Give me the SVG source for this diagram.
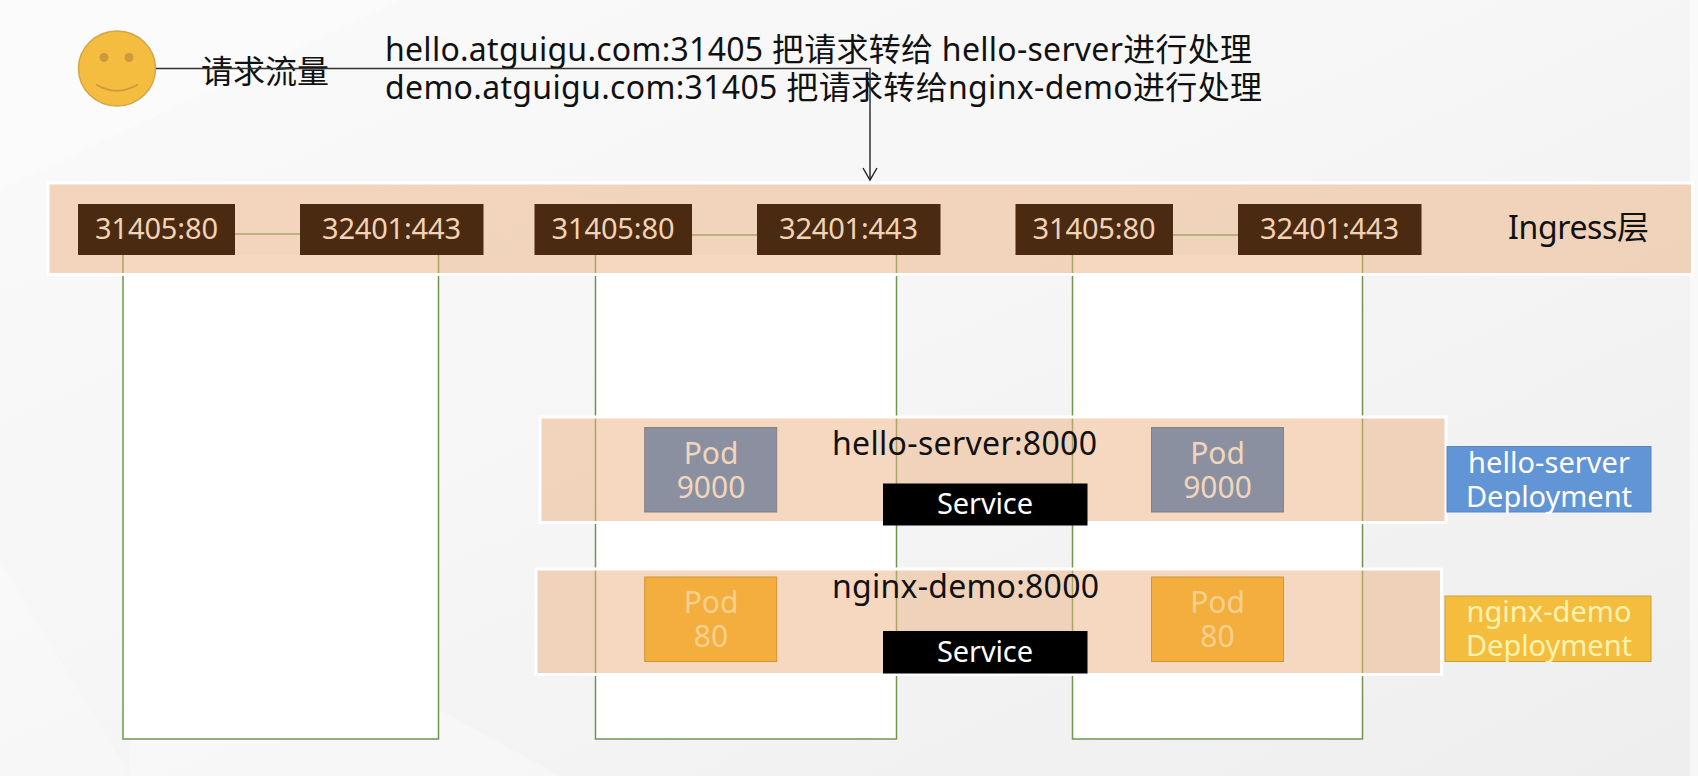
<svg xmlns="http://www.w3.org/2000/svg" width="1698" height="776" viewBox="0 0 1698 776">
<style>
text{font-family:"Noto Sans","Noto Sans CJK SC",sans-serif}
.k{fill:#111;font-size:32px}
.cj{fill:#111;font-size:32px;font-family:"Noto Sans CJK SC",sans-serif}
.band{fill:#ebb17f;fill-opacity:.5;stroke:#fff;stroke-width:3}
.hostfill{fill:#fff}
.host{fill:none;stroke:#6f9650;stroke-width:1.5}
.port rect{fill:#4a2a10}
.port text{fill:#f2d3b5;font-size:29px;text-anchor:middle}
.pod text{font-size:30px;text-anchor:middle}
.svc rect{fill:#000}
.svc text{fill:#fff;font-size:29px;text-anchor:middle}
.dep text{font-size:29px;text-anchor:middle}
.wire{fill:none;stroke:#a9a56e;stroke-width:1.6}
</style>
<defs>
<linearGradient id="bg" x1="0" y1="0" x2="1" y2="1"><stop offset="0" stop-color="#fafafa"/><stop offset=".45" stop-color="#f6f6f7"/><stop offset="1" stop-color="#eeeeee"/></linearGradient>
<marker id="arr" markerUnits="userSpaceOnUse" markerWidth="18" markerHeight="16" refX="15" refY="8" orient="auto"><path d="M3 1 L15 8 L3 15" fill="none" stroke="#222" stroke-width="1.4"/></marker>
</defs>
<g id="background">
<rect width="1698" height="776" fill="url(#bg)"/>
<polygon points="0,560 130,776 0,776" fill="#fff" fill-opacity=".25"/>
<polygon points="130,540 560,776 130,776" fill="#fff" fill-opacity=".3"/>
<polygon points="0,0 400,0 0,190" fill="#fff" fill-opacity=".3"/>
<rect x="1690" width="8" height="776" fill="#fff" fill-opacity=".5"/>
</g>
<g id="node-host-1"><rect class="hostfill" x="123" y="255" width="315.500" height="484"/><path class="host" d="M123 255V739H438.500V255"/></g>
<g id="node-host-2"><rect class="hostfill" x="595.500" y="255" width="301" height="484"/><path class="host" d="M595.500 255V739H896.500V255"/></g>
<g id="node-host-3"><rect class="hostfill" x="1072.500" y="255" width="290" height="484"/><path class="host" d="M1072.500 255V739H1362.500V255"/></g>
<g id="node-ingress-layer"><rect class="band" x="48" y="183" width="1644.500" height="91.500"/>
<text class="k" x="1508" y="239" textLength="141">Ingress层</text></g>
<g id="node-band-hello"><rect class="band" x="540" y="417" width="906" height="105.500"/>
<text class="k" x="832" y="455" textLength="265">hello-server:8000</text></g>
<g id="node-band-nginx"><rect class="band" x="536" y="569" width="905.500" height="105.500"/>
<text class="k" x="832" y="598" textLength="267">nginx-demo:8000</text></g>
<g id="node-port-1" class="port"><rect x="78" y="204" width="157" height="51"/><text x="156.500" y="239" textLength="123">31405:80</text></g>
<g id="node-port-2" class="port"><rect x="300" y="204" width="183.500" height="51"/><text x="391.500" y="239" textLength="139">32401:443</text></g>
<g id="node-port-3" class="port"><rect x="534.500" y="204" width="157.500" height="51"/><text x="613" y="239" textLength="123">31405:80</text></g>
<g id="node-port-4" class="port"><rect x="757" y="204" width="183.500" height="51"/><text x="848.500" y="239" textLength="139">32401:443</text></g>
<g id="node-port-5" class="port"><rect x="1015.500" y="204" width="157.500" height="51"/><text x="1094" y="239" textLength="123">31405:80</text></g>
<g id="node-port-6" class="port"><rect x="1238" y="204" width="183.500" height="51"/><text x="1329.500" y="239" textLength="139">32401:443</text></g>
<g id="node-pod-1" class="pod"><rect x="644.700" y="427.500" width="132" height="84.500" fill="#8a909f" stroke="#85817f"/><text x="711" y="464" fill="#f0d6bd">Pod</text><text x="711" y="498" fill="#f0d6bd">9000</text></g>
<g id="node-pod-2" class="pod"><rect x="1151.500" y="427.500" width="132" height="84.500" fill="#8a909f" stroke="#85817f"/><text x="1217.500" y="464" fill="#f0d6bd">Pod</text><text x="1217.500" y="498" fill="#f0d6bd">9000</text></g>
<g id="node-pod-3" class="pod"><rect x="644.700" y="577" width="132" height="84.500" fill="#f3ae3d" stroke="#cf9536"/><text x="711" y="613" fill="#f8d08e">Pod</text><text x="711" y="647" fill="#f8d08e">80</text></g>
<g id="node-pod-4" class="pod"><rect x="1151.500" y="577" width="132" height="84.500" fill="#f3ae3d" stroke="#cf9536"/><text x="1217.500" y="613" fill="#f8d08e">Pod</text><text x="1217.500" y="647" fill="#f8d08e">80</text></g>
<g id="node-service-1" class="svc"><rect x="883" y="483.500" width="204.500" height="42"/><text x="985" y="514" textLength="96">Service</text></g>
<g id="node-service-2" class="svc"><rect x="883" y="631" width="204.500" height="42.500"/><text x="985" y="662" textLength="96">Service</text></g>
<g id="node-deploy-hello" class="dep"><rect x="1447" y="446.500" width="204" height="65.500" fill="#6295d6" stroke="#5b86bd"/><text x="1549" y="473" fill="#fff" textLength="162">hello-server</text><text x="1549" y="507" fill="#fff" textLength="166">Deployment</text></g>
<g id="node-deploy-nginx" class="dep"><rect x="1445" y="596" width="206" height="65.500" fill="#f5bd3d" stroke="#c9a038"/><text x="1549" y="622" fill="#fdf3b0" textLength="165">nginx-demo</text><text x="1549" y="656" fill="#fdf3b0" textLength="166">Deployment</text></g>
<g id="node-user"><ellipse cx="117" cy="68.500" rx="38.500" ry="37.500" fill="#f4bd3f" stroke="#d0a648" stroke-width="1.500"/><ellipse cx="104" cy="57.500" rx="4.500" ry="4.500" fill="#cc9a3a"/><ellipse cx="129" cy="57.500" rx="4.500" ry="4.500" fill="#cc9a3a"/><path d="M96 84.500 Q117 97 138 84.500" fill="none" stroke="#cc9a3a" stroke-width="1.800"/></g>
<g id="node-traffic-label"><text class="cj" x="201" y="83">请求流量</text></g>
<g id="node-rules"><text class="k" x="385" y="61" textLength="867">hello.atguigu.com:31405 把请求转给 hello-server进行处理</text>
<text class="k" x="385" y="99" textLength="877">demo.atguigu.com:31405 把请求转给nginx-demo进行处理</text></g>
<g id="connectors">
<path class="wire" d="M235 234H300M692 235H757M1173 235H1238"/>
<path d="M156 68.500H870V180" fill="none" stroke="#333" stroke-width="1.500" marker-end="url(#arr)"/>
</g>
</svg>
